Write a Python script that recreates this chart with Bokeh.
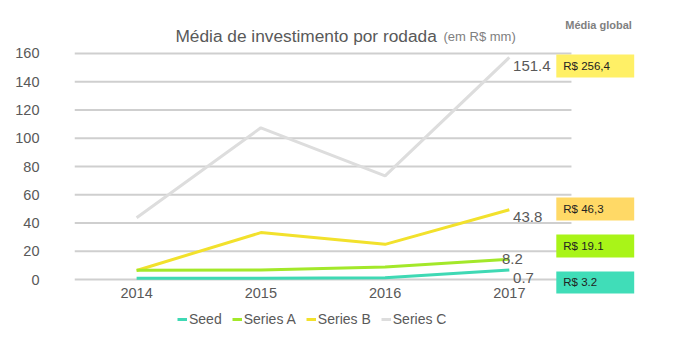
from bokeh.plotting import figure
from bokeh.models import Range1d, FixedTicker, Label, Legend, LegendItem
from bokeh.core.properties import value
from bokeh.embed import file_html
from bokeh.resources import INLINE

# ---- data ----
years = ["2014", "2015", "2016", "2017"]
seed = [0.9, 0.9, 1.2, 6.8]
series_a = [6.5, 6.8, 8.9, 14.4]
series_b = [6.4, 33.2, 24.9, 49.4]
series_c = [43.7, 107.4, 73.4, 157.2]
series_names = ["Seed", "Series A", "Series B", "Series C"]
end_labels = ["0.7", "8.2", "43.8", "151.4"]
global_labels = ["R$ 3.2", "R$ 19.1", "R$ 46,3", "R$ 256,4"]
y_ticks = [0, 20, 40, 60, 80, 100, 120, 140, 160]

# ---- styles / layout ----
colors = ["#3FD9B4", "#A3E82A", "#F2E12C", "#DDDDDD"]
box_colors = ["#40DDB8", "#A9F418", "#FFD966", "#FFF066"]
end_label_pos = [(3.03, 1.4), (2.94, 14.2), (3.03, 43.9), (3.03, 150.8)]
box_pos = [(-9.9, 5.7), (15.6, 31.9), (41.8, 58.1), (143.0, 159.3)]
box_left, box_right = 3.378, 4.005
FONT = "Liberation Sans"
GRAY = "#595959"

xs = list(range(len(years)))

p = figure(width=687, height=341, output_backend="svg", toolbar_location=None,
           x_range=Range1d(-0.5, 4.434), y_range=Range1d(-43.89, 197.52),
           min_border_left=74, min_border_right=0, min_border_top=0, min_border_bottom=0)
p.outline_line_color = None
p.xgrid.visible = False
p.ygrid.visible = False
p.xaxis.visible = False

ya = p.yaxis[0]
ya.ticker = FixedTicker(ticks=y_ticks)
ya.axis_line_color = None
ya.major_tick_line_color = None
ya.minor_tick_line_color = None
ya.major_label_text_font = FONT
ya.major_label_text_font_size = "14.5px"
ya.major_label_text_color = GRAY
ya.major_label_text_align = "left"
ya.major_label_standoff = 29

# gridlines
p.segment(x0=[-0.5] * len(y_ticks), x1=[3.5] * len(y_ticks), y0=y_ticks, y1=y_ticks,
          line_color="#CFCFCF", line_width=2)

# year labels
p.text(x=xs, y=[-9.9] * len(xs), text=years, text_font=value(FONT), text_font_size="14.5px",
       text_color=GRAY, text_align="center", text_baseline="middle")

# lines
items = []
for name, vals, col in zip(series_names[::-1], [series_c, series_b, series_a, seed], colors[::-1]):
    r = p.line(xs, vals, line_color=col, line_width=3)
    items.append(LegendItem(label=name, renderers=[r]))
items = items[::-1]

# end labels
p.text(x=[a for a, b in end_label_pos], y=[b for a, b in end_label_pos], text=end_labels,
       text_font=value(FONT), text_font_size="15px", text_color=GRAY,
       text_align="left", text_baseline="middle")

# global average boxes
p.quad(left=[box_left] * 4, right=[box_right] * 4,
       bottom=[b for b, t in box_pos], top=[t for b, t in box_pos],
       fill_color=box_colors, line_color=None)
p.text(x=[box_left + 0.056] * 4, y=[(b + t) / 2 for b, t in box_pos], text=global_labels,
       text_font=value(FONT), text_font_size="11.5px", text_color="#222222",
       text_align="left", text_baseline="middle")

# titles
p.add_layout(Label(x=0.3125, y=172.7, text="Média de investimento por rodada", text_font=FONT,
                   text_font_size="17.3px", text_color=GRAY, text_baseline="middle"))
p.add_layout(Label(x=2.47, y=172.2, text="(em R$ mm)", text_font=FONT,
                   text_font_size="13px", text_color="#808080", text_baseline="middle"))
p.add_layout(Label(x=3.45, y=180.5, text="Média global", text_font=FONT, text_font_style="bold",
                   text_font_size="11px", text_color="#7F7F7F", text_baseline="middle"))

legend = Legend(items=items, orientation="horizontal", location=(103, 14),
                label_text_font=FONT, label_text_font_size="14px", label_text_color=GRAY,
                glyph_width=10, glyph_height=14, label_standoff=2, spacing=10,
                padding=0, margin=0, border_line_color=None, background_fill_alpha=0)
p.add_layout(legend)

open("out.html", "w").write(file_html(p, INLINE))
